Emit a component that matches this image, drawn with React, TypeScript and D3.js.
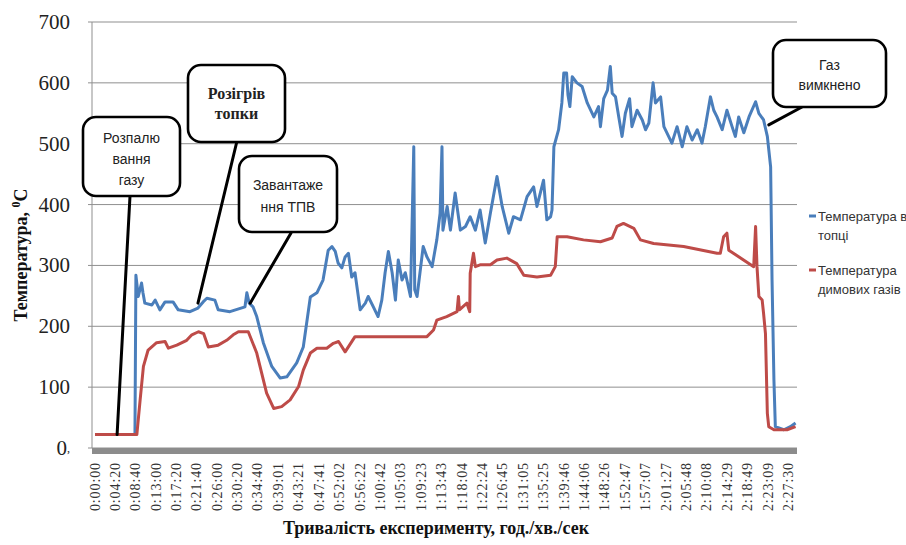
import React from 'react';
import * as d3 from 'd3';

// Time-axis category labels (h:mm:ss)
const timeLabels = [
  '0:00:00', '0:04:20', '0:08:40', '0:13:00', '0:17:20', '0:21:40', '0:26:00', '0:30:20',
  '0:34:40', '0:39:01', '0:43:21', '0:47:41', '0:52:02', '0:56:22', '1:00:42', '1:05:03',
  '1:09:23', '1:13:43', '1:18:04', '1:22:24', '1:26:45', '1:31:05', '1:35:25', '1:39:46',
  '1:44:06', '1:48:26', '1:52:47', '1:57:07', '2:01:27', '2:05:48', '2:10:08', '2:14:29',
  '2:18:49', '2:23:09', '2:27:30',
];

const tempTicks = [0, 100, 200, 300, 400, 500, 600, 700];

// Furnace temperature: [minutes, °C]
const furnaceSeries: [number, number][] = [
  [0, 22], [8.5, 22], [8.7, 284], [9.2, 249], [9.9, 271], [10.2, 255], [10.6, 238],
  [12.1, 235], [12.8, 243], [13.8, 227], [14.9, 240], [16.6, 240], [17.7, 227],
  [20.2, 224], [21.9, 230], [23.0, 240], [23.8, 246], [25.5, 243], [26.2, 227],
  [28.7, 224], [31.9, 232], [32.3, 255], [32.8, 238], [33.6, 232], [34.4, 216],
  [35.8, 173], [37.6, 134], [39.4, 115], [40.8, 117], [42.9, 140], [44.3, 166],
  [45.8, 248], [47.2, 255], [48.5, 276], [49.6, 325], [50.4, 331], [51.1, 323],
  [51.7, 304], [52.5, 296], [53.2, 314], [53.9, 320], [54.6, 281], [55.3, 288],
  [56.4, 227], [57.5, 238], [58.1, 249], [59.2, 232], [60.2, 216], [61.0, 243],
  [61.7, 288], [62.4, 323], [63.2, 288], [63.9, 243], [64.5, 309], [65.3, 276],
  [66.0, 288], [67.1, 249], [67.8, 495], [68.0, 260], [68.5, 249], [69.8, 331],
  [70.6, 314], [71.7, 298], [72.7, 342], [73.4, 386], [73.8, 495], [74.0, 358],
  [74.9, 397], [75.6, 358], [76.6, 419], [77.7, 358], [78.8, 364], [79.8, 380],
  [80.9, 358], [81.9, 391], [83.0, 337], [84.1, 386], [85.5, 446], [86.6, 397],
  [88.0, 353], [89.0, 380], [90.5, 375], [91.9, 413], [93.3, 429], [94.0, 397],
  [95.4, 440], [96.1, 375], [96.9, 380], [97.2, 391], [97.6, 495], [98.6, 523],
  [99.3, 567], [99.7, 616], [100.3, 616], [100.6, 580], [101.0, 561], [101.5, 610],
  [102.5, 600], [103.6, 594], [104.7, 567], [106.1, 544], [107.1, 561], [107.5, 528],
  [108.2, 574], [109.0, 588], [109.6, 627], [110.0, 583], [110.7, 577], [111.4, 544],
  [112.1, 512], [112.8, 550], [113.7, 574], [114.2, 528], [115.3, 555], [116.4, 539],
  [117.1, 523], [117.8, 534], [118.7, 600], [119.2, 567], [120.3, 577], [121.0, 528],
  [122.0, 512], [122.7, 501], [123.8, 528], [124.9, 495], [125.9, 528], [127.0, 506],
  [128.1, 523], [129.1, 501], [129.8, 528], [130.9, 577], [131.6, 555], [132.3, 544],
  [133.4, 523], [134.4, 555], [135.5, 528], [136.2, 512], [136.9, 544], [138.0, 518],
  [139.1, 544], [140.5, 569], [141.2, 550], [142.2, 539], [143.0, 512], [143.7, 462],
  [144.0, 276], [144.4, 112], [144.7, 35], [146.5, 30], [147.9, 35], [149.0, 41],
];

// Flue gas temperature: [minutes, °C]
const flueSeries: [number, number][] = [
  [0, 22], [8.9, 22], [9.6, 79], [10.3, 134], [11.3, 161], [13.1, 173], [14.9, 175],
  [15.6, 164], [17.4, 169], [19.5, 177], [20.6, 186], [22.0, 191], [23.1, 188],
  [24.1, 166], [26.2, 169], [28.0, 177], [29.4, 186], [30.5, 191], [32.6, 191],
  [34.4, 156], [36.5, 90], [38.0, 65], [39.7, 68], [41.5, 79], [43.3, 101], [44.3, 128],
  [45.8, 156], [47.2, 164], [49.3, 164], [50.7, 172], [51.8, 175], [53.2, 158],
  [55.3, 183], [67.0, 183], [70.6, 183], [72.0, 194], [72.7, 210], [74.8, 216],
  [77.0, 224], [77.3, 249], [77.5, 227], [79.1, 238], [79.7, 224], [79.8, 287],
  [80.5, 320], [80.9, 298], [81.9, 301], [84.1, 301], [85.5, 309], [87.6, 312],
  [89.7, 303], [91.2, 284], [94.0, 281], [96.9, 284], [97.9, 298], [98.3, 347],
  [100.4, 347], [103.9, 342], [107.5, 339], [110.0, 345], [111.0, 364], [112.4, 369],
  [114.6, 361], [116.0, 342], [118.8, 336], [125.2, 331], [132.3, 320], [133.0, 320],
  [133.7, 347], [134.4, 353], [134.8, 325], [140.1, 298], [140.5, 364], [140.8, 298],
  [141.2, 249], [141.9, 243], [142.2, 221], [142.6, 188], [143.0, 57], [143.3, 35],
  [144.4, 30], [147.2, 30], [149.0, 35],
];

const legendFurnace = ['Температура в', 'топці'];
const legendFlue = ['Температура', 'димових газів'];

const calloutIgnition = ['Розпалю', 'вання', 'газу'];
const calloutHeating = ['Розігрів', 'топки'];
const calloutLoading = ['Завантаже', 'ння ТПВ'];
const calloutGasOff = ['Газ', 'вимкнено'];

const BLUE = '#4A7EBB';
const RED = '#BE4B48';
const GRID = '#8f8f8f';
const SERIF = '"Liberation Serif", "Times New Roman", serif';
const SANS = '"Liberation Sans", Arial, sans-serif';

const toMinutes = (s: string) => {
  const [h, m, sec] = s.split(':').map(Number);
  return h * 60 + m + sec / 60;
};

export default function App() {
  const width = 906;
  const height = 545;

  const x = d3.scaleLinear().domain([0, toMinutes('2:27:30')]).range([95, 788.5]);
  const y = d3.scaleLinear().domain([0, 700]).range([448, 22]);

  const line = d3
    .line<[number, number]>()
    .x((d) => x(d[0]))
    .y((d) => y(d[1]))
    .curve(d3.curveLinear);

  const plotLeft = 92;
  const plotRight = 797;

  // Rounded callout box with a pointer to a point on the data
  const callout = (
    key: string,
    box: { x: number; y: number; w: number; h: number },
    lines: string[],
    from: [number, number],
    to: [number, number],
    opts: { font: string; size: number; weight: string | number; lineGap: number; firstY: number },
  ) => (
    <g key={key}>
      <line
        x1={from[0]}
        y1={from[1]}
        x2={x(to[0])}
        y2={y(to[1])}
        stroke="#000"
        strokeWidth={3}
        strokeLinecap="round"
      />
      <rect
        x={box.x}
        y={box.y}
        width={box.w}
        height={box.h}
        rx={13}
        ry={13}
        fill="#fff"
        stroke="#000"
        strokeWidth={2.6}
      />
      {lines.map((t, i) => (
        <text
          key={i}
          x={box.x + box.w / 2}
          y={opts.firstY + i * opts.lineGap}
          textAnchor="middle"
          dominantBaseline="central"
          fontFamily={opts.font}
          fontSize={opts.size}
          fontWeight={opts.weight}
          fill="#222"
        >
          {t}
        </text>
      ))}
    </g>
  );

  return (
    <svg
      width={width}
      height={height}
      style={{ position: 'absolute', left: 0, top: 0, background: '#fff' }}
      xmlns="http://www.w3.org/2000/svg"
    >
      <rect x={0} y={0} width={width} height={height} fill="#fff" />

      {/* horizontal gridlines */}
      {tempTicks.map((t) => (
        <line key={t} x1={88} x2={plotRight} y1={y(t)} y2={y(t)} stroke={GRID} strokeWidth={1} />
      ))}
      {/* value axis */}
      <line x1={plotLeft} x2={plotLeft} y1={y(700)} y2={y(0)} stroke={GRID} strokeWidth={1} />
      {/* floor band */}
      <rect x={plotLeft} y={y(0)} width={plotRight - plotLeft} height={6} fill="#8c8c8c" />

      {/* y tick labels */}
      {tempTicks.map((t) => (
        <text
          key={t}
          x={70}
          y={y(t)}
          textAnchor="end"
          dominantBaseline="central"
          fontFamily={SERIF}
          fontSize={21}
          fill="#222"
        >
          {t === 0 ? (
            <>
              0<tspan fontSize={12}>,</tspan>
            </>
          ) : (
            t
          )}
        </text>
      ))}

      {/* x tick labels */}
      {timeLabels.map((lab) => (
        <text
          key={lab}
          transform={`translate(${x(toMinutes(lab))},462) rotate(-90)`}
          textAnchor="end"
          dominantBaseline="central"
          fontFamily={SERIF}
          fontSize={14}
          letterSpacing={0.9}
          fill="#333"
        >
          {lab}
        </text>
      ))}

      {/* axis titles */}
      <text
        x={436}
        y={534}
        textAnchor="middle"
        fontFamily={SERIF}
        fontSize={18}
        fontWeight="bold"
        fill="#111"
      >
        Тривалість експерименту, год./хв./сек
      </text>
      <text
        transform="translate(27,255) rotate(-90)"
        textAnchor="middle"
        fontFamily={SERIF}
        fontSize={18}
        fontWeight="bold"
        fill="#111"
      >
        Температура, <tspan fontSize={12} dy={-7}>0</tspan>
        <tspan dy={7}>C</tspan>
      </text>

      {/* series */}
      <path d={line(furnaceSeries) ?? ''} fill="none" stroke={BLUE} strokeWidth={3} strokeLinejoin="round" />
      <path d={line(flueSeries) ?? ''} fill="none" stroke={RED} strokeWidth={3} strokeLinejoin="round" />

      {/* legend */}
      <g fontFamily={SANS} fontSize={13} fill="#333">
        <line x1={809} x2={816} y1={216} y2={216} stroke={BLUE} strokeWidth={3} />
        {legendFurnace.map((t, i) => (
          <text key={t} x={818} y={216 + i * 19} dominantBaseline="central">
            {t}
          </text>
        ))}
        <line x1={809} x2={816} y1={270} y2={270} stroke={RED} strokeWidth={3} />
        {legendFlue.map((t, i) => (
          <text key={t} x={818} y={270 + i * 19} dominantBaseline="central">
            {t}
          </text>
        ))}
      </g>

      {/* annotations */}
      {callout('ignite', { x: 83, y: 117, w: 97, h: 79 }, calloutIgnition, [130, 196], [4.7, 22], {
        font: SANS, size: 14, weight: 'normal', lineGap: 21, firstY: 138,
      })}
      {callout('heat', { x: 188, y: 65, w: 97, h: 77 }, calloutHeating, [237, 141], [21.9, 238], {
        font: SERIF, size: 16, weight: 'bold', lineGap: 20, firstY: 93,
      })}
      {callout('load', { x: 239, y: 156, w: 98, h: 76 }, calloutLoading, [291, 233], [33.0, 238], {
        font: SANS, size: 14, weight: 'normal', lineGap: 22, firstY: 185,
      })}
      {callout('gasoff', { x: 773, y: 40, w: 113, h: 67 }, calloutGasOff, [802, 107], [143.3, 531], {
        font: SANS, size: 14, weight: 'normal', lineGap: 20, firstY: 65,
      })}
    </svg>
  );
}
